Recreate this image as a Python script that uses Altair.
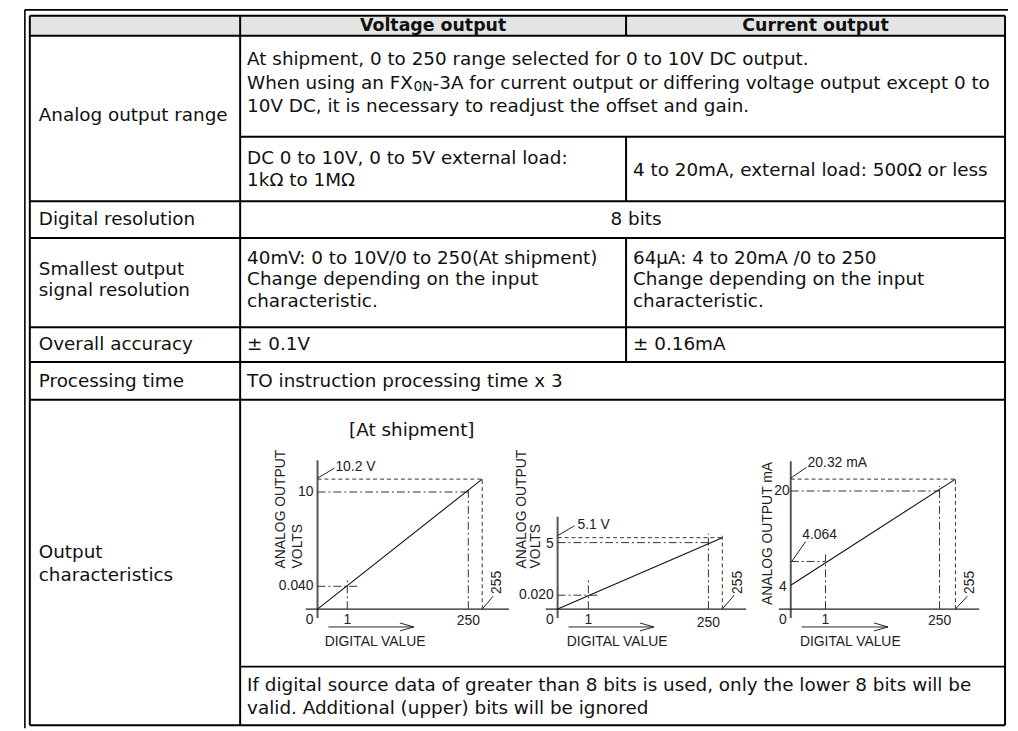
import altair as alt
import pandas as pd

M = 8                      # page margin
W, H = 1010, 723           # drawing area (1018 x 731 page minus margin)
FONT = "DejaVu Sans"       # table text (wide Helvetica look)
CFONT = "Liberation Sans"  # lettering inside the small diagrams
FS = 18.5

# ---------------- table content ----------------
HEADER = ["Voltage output", "Current output"]
ROW_LABELS = [["Analog output range"], ["Digital resolution"],
              ["Smallest output", "signal resolution"], ["Overall accuracy"],
              ["Processing time"], ["Output", "characteristics"]]
RANGE_NOTE = ["At shipment, 0 to 250 range selected for 0 to 10V DC output.",
              "When using an FX",
              "-3A for current output or differing voltage output except 0 to",
              "10V DC, it is necessary to readjust the offset and gain."]
MODEL_SUB = "0N"
VOLT_RANGE = ["DC 0 to 10V, 0 to 5V external load:", "1kΩ to 1MΩ"]
CURR_RANGE = ["4 to 20mA, external load: 500Ω or less"]
RESOLUTION = ["8 bits"]
VOLT_SMALLEST = ["40mV: 0 to 10V/0 to 250(At shipment)", "Change depending on the input", "characteristic."]
CURR_SMALLEST = ["64μA: 4 to 20mA /0 to 250", "Change depending on the input", "characteristic."]
VOLT_ACCURACY = ["± 0.1V"]
CURR_ACCURACY = ["± 0.16mA"]
PROCESSING = ["TO instruction processing time x 3"]
CHART_CAPTION = ["[At shipment]"]
FOOTNOTE = ["If digital source data of greater than 8 bits is used, only the lower 8 bits will be",
            "valid. Additional (upper) bits will be ignored"]

# ---------------- chart data ----------------
DIGITAL = [0, 1, 250, 255]
VOLT10 = [0, 0.040, 10, 10.2]
VOLT5 = [0, 0.020, 5, 5.1]
CURR = [0, 4, 4.064, 20, 20.32]
LINE_V10 = ([0, 255], [0, 10.2])
LINE_V5 = ([0, 255], [0, 5.1])
LINE_MA = ([0, 255], [4, 20.32])

# ---------------- layout (page pixels) ----------------
COL = [30, 242, 631, 1013]
ROW = [13, 33, 200, 237, 327, 362, 400, 669, 728]
SPLIT = 135
TX = [39, 249, 638]
LABEL_Y = [[113], [218], [268, 289.5], [344], [381], [554, 577]]

XS = alt.Scale(domain=[M, M + W], range=[0, W], zero=False, nice=False)
YS = alt.Scale(domain=[M, M + H], range=[0, H], zero=False, nice=False)


def pos():
    return dict(x=alt.X("x:Q", scale=XS, axis=None), y=alt.Y("y:Q", scale=YS, axis=None))


def rules(segs, width, color="#000"):
    df = pd.DataFrame(segs, columns=["x", "y", "x2", "y2"])
    return alt.Chart(df).mark_rule(strokeWidth=width, color=color).encode(
        **pos(), x2=alt.X2("x2"), y2=alt.Y2("y2"))


def texts(items, size=FS, **kw):
    df = pd.DataFrame(items, columns=["t", "x", "y"])
    return alt.Chart(df).mark_text(font=FONT, fontSize=size, color="#111",
                                   baseline="middle", **kw).encode(**pos(), text="t:N")


# table frame
hdr = alt.Chart(pd.DataFrame([{"x": COL[0], "x2": COL[3], "y": ROW[0], "y2": ROW[1]}])).mark_rect(
    color="#e4e4e4").encode(**pos(), x2=alt.X2("x2"), y2=alt.Y2("y2"))

outer = rules([(25, 7, 25, 731), (25, 7, 1016, 7)], 1.6)
segs = []
for yv in ROW:
    segs.append((COL[1] if yv == 669 else COL[0], yv, COL[3], yv))
segs.append((COL[1], SPLIT, COL[3], SPLIT))
segs += [(COL[0], ROW[0], COL[0], ROW[-1]), (COL[3], ROW[0], COL[3], ROW[-1]),
         (COL[1], ROW[0], COL[1], ROW[-1]),
         (COL[2], ROW[0], COL[2], ROW[1]), (COL[2], SPLIT, COL[2], ROW[2]),
         (COL[2], ROW[3], COL[2], ROW[5])]
grid = rules(segs, 2)

# text placement
lab = []
for lines, ys in zip(ROW_LABELS, LABEL_Y):
    lab += [(t, TX[0], yv) for t, yv in zip(lines, ys)]
left = lab[:]
left.append((RANGE_NOTE[0], TX[1], 57))
left.append((RANGE_NOTE[1], TX[1], 80.5))
left.append((RANGE_NOTE[3], TX[1], 104))
left += [(t, TX[1], yv) for t, yv in zip(VOLT_RANGE, [156, 179])]
left += [(t, TX[2], yv) for t, yv in zip(CURR_RANGE, [168])]
left += [(t, TX[1], yv) for t, yv in zip(VOLT_SMALLEST, [257, 278.5, 300])]
left += [(t, TX[2], yv) for t, yv in zip(CURR_SMALLEST, [257, 278.5, 300])]
left += [(VOLT_ACCURACY[0], TX[1], 344), (CURR_ACCURACY[0], TX[2], 344)]
left += [(PROCESSING[0], TX[1], 381)]
left += [(t, TX[1], yv) for t, yv in zip(FOOTNOTE, [688, 711])]
# "When using an FX" is 9.034 em wide in DejaVu Sans; "0N" 1.384 em
sub_x = TX[1] + 9.034 * FS
left.append((RANGE_NOTE[2], sub_x + 1.384 * 14 + 0.5, 80.5))

body = texts(left, align="left")
sub = texts([(MODEL_SUB, sub_x + 0.5, 85)], size=14, align="left")
head = texts([(HEADER[0], 436.5, 23), (HEADER[1], 822, 23)], size=17.5,
             align="center", fontWeight="bold")
centre = texts([(RESOLUTION[0], 641, 218), (CHART_CAPTION[0], 415, 431)], align="center")

table = alt.layer(hdr, outer, grid, body, sub, head, centre)

# ---------------- mini characteristic charts ----------------
STY = {
    "ay": dict(color="#555", strokeWidth=2),
    "ax": dict(color="#222", strokeWidth=1.3),
    "dash": dict(color="#333", strokeWidth=1, strokeDash=[4, 3]),
    "dd": dict(color="#333", strokeWidth=1, strokeDash=[8, 3, 2, 3]),
    "thin": dict(color="#222", strokeWidth=1),
}


def mini(xdom, xpx, ydom, ypx, line, segs, labels):
    xs = alt.Scale(domain=xdom, range=[p - M for p in xpx], zero=False, nice=False)
    ys = alt.Scale(domain=ydom, range=[p - M for p in ypx], zero=False, nice=False)

    def enc():
        return dict(x=alt.X("x:Q", scale=xs, axis=None), y=alt.Y("y:Q", scale=ys, axis=None))

    layers = []
    for sty, x, y, x2, y2, o in segs:
        df = pd.DataFrame([{"x": x, "y": y, "x2": x2, "y2": y2}])
        layers.append(alt.Chart(df).mark_rule(
            xOffset=o[0], yOffset=o[1], x2Offset=o[2], y2Offset=o[3], **STY[sty]).encode(
            **enc(), x2=alt.X2("x2"), y2=alt.Y2("y2")))
    ldf = pd.DataFrame({"x": line[0], "y": line[1]})
    layers.append(alt.Chart(ldf).mark_line(color="#111", strokeWidth=1.1).encode(**enc()))
    for t, x, y, dx, dy, al, ang in labels:
        df = pd.DataFrame([{"t": t, "x": x, "y": y}])
        kw = dict(angle=ang) if ang else {}
        layers.append(alt.Chart(df).mark_text(
            font=CFONT, fontSize=14, color="#222", baseline="middle", align=al,
            xOffset=dx, yOffset=dy, **kw).encode(**enc(), text="t:N"))
    return alt.layer(*layers)


Z = (0, 0, 0, 0)


def arrow(head_tip):
    return [("thin", 0, 0, 0, 0, (11, 18, head_tip, 18)),
            ("thin", 0, 0, 0, 0, (head_tip - 14, 14, head_tip, 18)),
            ("thin", 0, 0, 0, 0, (head_tip - 14, 22, head_tip, 18))]


c1 = mini(DIGITAL, [320, 350, 472, 486], VOLT10, [611, 588, 493, 480], LINE_V10,
          [("ay", 0, 0, 0, 10.2, (0, 9, 0, -19)),
           ("ax", 0, 0, 255, 0, (-12, 0, 27, 0)),
           ("dd", 0, 10, 250, 10, Z), ("dd", 250, 0, 250, 10, (0, 0, 0, -3)),
           ("dash", 0, 10.2, 255, 10.2, Z), ("dash", 255, 0, 255, 10.2, Z),
           ("dd", 0, 0.04, 1, 0.04, (0, 0, 12, 0)), ("dd", 1, 0, 1, 0.04, (0, 0, 0, -9)),
           ("thin", 0, 10.2, 0, 10.2, (0, -1, 17, -11)),
           ("thin", 255, 0, 255, 0, (0, 0, 11, -13))] + arrow(97),
          [("0", 0, 0, -4, 11, "right", None), ("1", 1, 0, 0, 11, "center", None),
           ("250", 250, 0, 0, 12, "center", None),
           ("0.040", 0, 0.04, -4, 0, "right", None), ("10", 0, 10, -4, 0, "right", None),
           ("10.2 V", 0, 10.2, 18, -12, "left", None),
           ("255", 255, 0, 15, -27, "center", 270),
           ("ANALOG OUTPUT", 0, 0, -37, -41, "left", 270), ("VOLTS", 0, 0, -20, -41, "left", 270),
           ("DIGITAL VALUE", 0, 0, 58, 33, "center", None)])

c2 = mini(DIGITAL, [562, 593, 714, 728], VOLT5, [611, 597, 544, 539], LINE_V5,
          [("ay", 0, 0, 0, 5.1, (0, 9, 0, -21)),
           ("ax", 0, 0, 255, 0, (-12, 0, 24, 0)),
           ("dd", 0, 5, 250, 5, Z), ("dd", 250, 0, 250, 5, (0, 0, 0, -9)),
           ("dash", 0, 5.1, 255, 5.1, Z), ("dash", 255, 0, 255, 5.1, (0, 0, 0, -4)),
           ("dd", 0, 0.02, 1, 0.02, (0, 0, 10, 0)), ("dd", 1, 0, 1, 0.02, (0, 0, 0, -17)),
           ("thin", 0, 5.1, 0, 5.1, (0, -2, 17, -12)),
           ("thin", 255, 0, 255, 0, (0, 0, 12, -14))] + arrow(97),
          [("0", 0, 0, -4, 11, "right", None), ("1", 1, 0, 0, 11, "center", None),
           ("250", 250, 0, 0, 14, "center", None),
           ("0.020", 0, 0.02, -4, 0, "right", None), ("5", 0, 5, -4, 1, "right", None),
           ("5.1 V", 0, 5.1, 20, -13, "left", None),
           ("255", 255, 0, 16, -27, "center", 270),
           ("ANALOG OUTPUT", 0, 0, -36, -41, "left", 270), ("VOLTS", 0, 0, -22, -41, "left", 270),
           ("DIGITAL VALUE", 0, 0, 60, 33, "center", None)])

c3 = mini(DIGITAL, [797, 832, 947, 963], CURR, [611, 587, 563, 492, 480], LINE_MA,
          [("ay", 0, 0, 0, 20.32, (0, 9, 0, -18)),
           ("ax", 0, 0, 255, 0, (-12, 0, 24, 0)),
           ("dd", 0, 20, 250, 20, Z), ("dd", 250, 0, 250, 20, (0, 0, 0, -5)),
           ("dash", 0, 20.32, 255, 20.32, Z), ("dash", 255, 0, 255, 20.32, Z),
           ("dd", 0, 4.064, 1, 4.064, Z), ("dd", 1, 0, 1, 4.064, (0, 0, 0, -7)),
           ("thin", 0, 20.32, 0, 20.32, (0, -1, 16, -12)),
           ("thin", 0, 4.064, 0, 4.064, (1, 0, 15, -20)),
           ("thin", 255, 0, 255, 0, (0, 0, 12, -13))] + arrow(98),
          [("0", 0, 0, -4, 11, "right", None), ("1", 1, 0, 0, 11, "center", None),
           ("250", 250, 0, 0, 12, "center", None),
           ("4", 0, 4, -4, 2, "right", None), ("20", 0, 20, -1, 0, "right", None),
           ("4.064", 0, 4.064, 29, -27, "center", None),
           ("20.32 mA", 0, 20.32, 17, -16, "left", None),
           ("255", 255, 0, 15, -27, "center", 270),
           ("ANALOG OUTPUT mA", 0, 0, -23, -4, "left", 270),
           ("DIGITAL VALUE", 0, 0, 60, 33, "center", None)])

chart = alt.layer(table, c1, c2, c3).resolve_scale(
    x="independent", y="independent"
).properties(
    width=W, height=H, padding=0,
    autosize=alt.AutoSizeParams(type="none"), background="white"
).configure_view(strokeWidth=0)

chart.save("out.html", embed_options={"renderer": "svg", "actions": False})
